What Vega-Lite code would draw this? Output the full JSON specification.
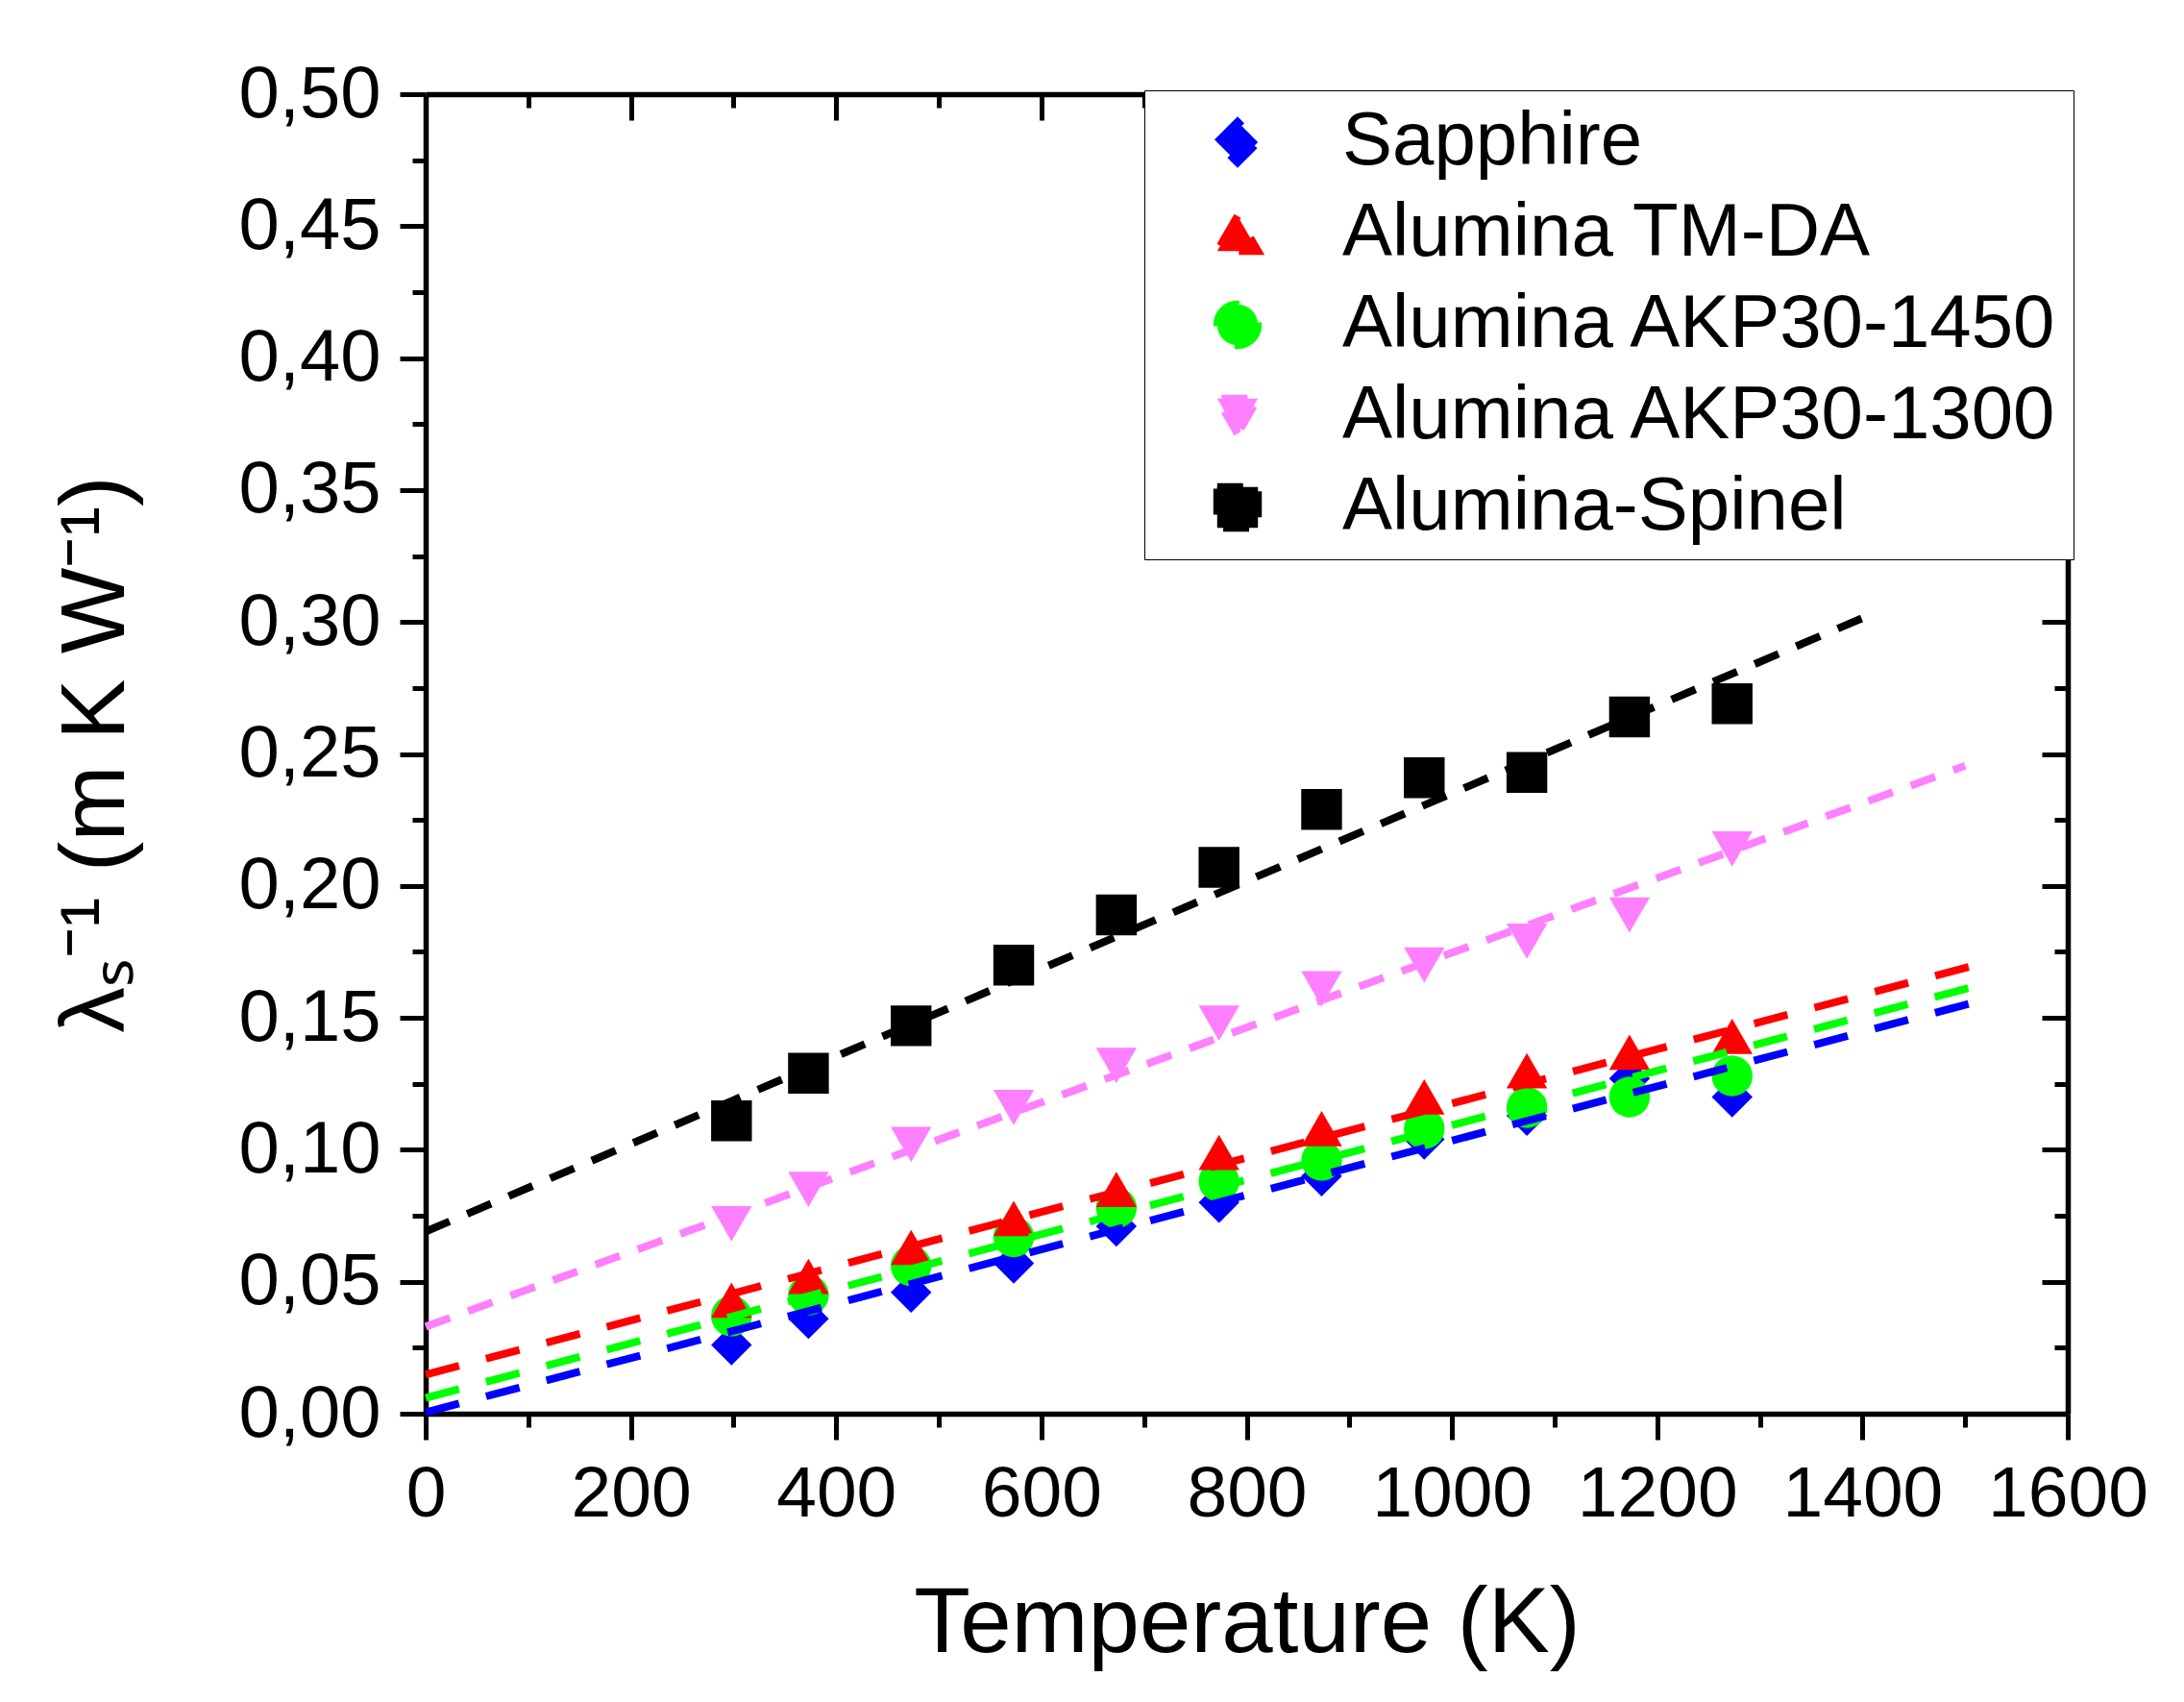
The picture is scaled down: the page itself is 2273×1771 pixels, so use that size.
{
  "$schema": "https://vega.github.io/schema/vega-lite/v6.json",
  "autosize": "none",
  "padding": {"left": 443, "top": 98, "right": 121, "bottom": 300},
  "width": 1709,
  "height": 1373,
  "config": {
    "font": "Liberation Sans",
    "view": {"stroke": null},
    "axis": {"grid": false, "domainColor": "black", "tickColor": "black", "labelColor": "black", "titleColor": "black", "domainWidth": 5.5, "tickWidth": 5}
  },
  "datasets": {
    "points": [
      {"T": 298, "v": 0.111, "series": "Alumina-Spinel"},
      {"T": 373, "v": 0.129, "series": "Alumina-Spinel"},
      {"T": 473, "v": 0.147, "series": "Alumina-Spinel"},
      {"T": 573, "v": 0.170, "series": "Alumina-Spinel"},
      {"T": 673, "v": 0.189, "series": "Alumina-Spinel"},
      {"T": 773, "v": 0.207, "series": "Alumina-Spinel"},
      {"T": 873, "v": 0.229, "series": "Alumina-Spinel"},
      {"T": 973, "v": 0.241, "series": "Alumina-Spinel"},
      {"T": 1073, "v": 0.243, "series": "Alumina-Spinel"},
      {"T": 1173, "v": 0.264, "series": "Alumina-Spinel"},
      {"T": 1273, "v": 0.269, "series": "Alumina-Spinel"},
      {"T": 298, "v": 0.072, "series": "Alumina AKP30-1300"},
      {"T": 373, "v": 0.085, "series": "Alumina AKP30-1300"},
      {"T": 473, "v": 0.102, "series": "Alumina AKP30-1300"},
      {"T": 573, "v": 0.116, "series": "Alumina AKP30-1300"},
      {"T": 673, "v": 0.132, "series": "Alumina AKP30-1300"},
      {"T": 773, "v": 0.148, "series": "Alumina AKP30-1300"},
      {"T": 873, "v": 0.161, "series": "Alumina AKP30-1300"},
      {"T": 973, "v": 0.170, "series": "Alumina AKP30-1300"},
      {"T": 1073, "v": 0.179, "series": "Alumina AKP30-1300"},
      {"T": 1173, "v": 0.189, "series": "Alumina AKP30-1300"},
      {"T": 1273, "v": 0.214, "series": "Alumina AKP30-1300"},
      {"T": 298, "v": 0.026, "series": "Sapphire"},
      {"T": 373, "v": 0.036, "series": "Sapphire"},
      {"T": 473, "v": 0.046, "series": "Sapphire"},
      {"T": 573, "v": 0.057, "series": "Sapphire"},
      {"T": 673, "v": 0.071, "series": "Sapphire"},
      {"T": 773, "v": 0.080, "series": "Sapphire"},
      {"T": 873, "v": 0.090, "series": "Sapphire"},
      {"T": 973, "v": 0.104, "series": "Sapphire"},
      {"T": 1073, "v": 0.113, "series": "Sapphire"},
      {"T": 1173, "v": 0.127, "series": "Sapphire"},
      {"T": 1273, "v": 0.120, "series": "Sapphire"},
      {"T": 298, "v": 0.037, "series": "Alumina AKP30-1450"},
      {"T": 373, "v": 0.045, "series": "Alumina AKP30-1450"},
      {"T": 473, "v": 0.056, "series": "Alumina AKP30-1450"},
      {"T": 573, "v": 0.067, "series": "Alumina AKP30-1450"},
      {"T": 673, "v": 0.078, "series": "Alumina AKP30-1450"},
      {"T": 773, "v": 0.088, "series": "Alumina AKP30-1450"},
      {"T": 873, "v": 0.096, "series": "Alumina AKP30-1450"},
      {"T": 973, "v": 0.108, "series": "Alumina AKP30-1450"},
      {"T": 1073, "v": 0.116, "series": "Alumina AKP30-1450"},
      {"T": 1173, "v": 0.120, "series": "Alumina AKP30-1450"},
      {"T": 1273, "v": 0.128, "series": "Alumina AKP30-1450"},
      {"T": 298, "v": 0.043, "series": "Alumina TM-DA"},
      {"T": 373, "v": 0.052, "series": "Alumina TM-DA"},
      {"T": 473, "v": 0.063, "series": "Alumina TM-DA"},
      {"T": 573, "v": 0.074, "series": "Alumina TM-DA"},
      {"T": 673, "v": 0.085, "series": "Alumina TM-DA"},
      {"T": 773, "v": 0.099, "series": "Alumina TM-DA"},
      {"T": 873, "v": 0.108, "series": "Alumina TM-DA"},
      {"T": 973, "v": 0.120, "series": "Alumina TM-DA"},
      {"T": 1073, "v": 0.130, "series": "Alumina TM-DA"},
      {"T": 1173, "v": 0.137, "series": "Alumina TM-DA"},
      {"T": 1273, "v": 0.143, "series": "Alumina TM-DA"}
    ],
    "fits": [
      {"T": 0, "v": 0.069, "series": "Alumina-Spinel"},
      {"T": 1400, "v": 0.3015, "series": "Alumina-Spinel"},
      {"T": 0, "v": 0.033, "series": "Alumina AKP30-1300"},
      {"T": 1500, "v": 0.2455, "series": "Alumina AKP30-1300"},
      {"T": 0, "v": 0.0148, "series": "Alumina TM-DA"},
      {"T": 1520, "v": 0.171, "series": "Alumina TM-DA"},
      {"T": 0, "v": 0.006, "series": "Alumina AKP30-1450"},
      {"T": 1520, "v": 0.163, "series": "Alumina AKP30-1450"},
      {"T": 0, "v": 0.0005, "series": "Sapphire"},
      {"T": 1520, "v": 0.157, "series": "Sapphire"}
    ]
  },
  "resolve": {"axis": {"x": "independent", "y": "independent"}},
  "layer": [
    {
      "data": {"name": "points"},
      "mark": {"type": "point", "filled": true, "fillOpacity": 1, "strokeOpacity": 0},
      "encoding": {
        "x": {
          "field": "T", "type": "quantitative",
          "scale": {"domain": [0, 1600], "nice": false},
          "axis": {
            "orient": "bottom", "values": [0, 200, 400, 600, 800, 1000, 1200, 1400, 1600],
            "format": "d", "tickSize": 27, "labelPadding": 20, "labelFontSize": 75,
            "labelFlush": false, "title": "Temperature (K)", "titleFontSize": 96,
            "titleFontWeight": "normal", "titlePadding": 50
          }
        },
        "y": {
          "field": "v", "type": "quantitative",
          "scale": {"domain": [0, 0.5], "nice": false},
          "axis": {
            "orient": "left", "values": [0, 0.05, 0.1, 0.15, 0.2, 0.25, 0.3, 0.35, 0.4, 0.45, 0.5],
            "labelExpr": "replace(format(datum.value, '.2f'), '.', ',')",
            "tickSize": 27, "labelPadding": 20, "labelFontSize": 76, "labelFlush": false,
            "title": "λₛ⁻¹ (m K W⁻¹)", "titleFontSize": 95, "titleFontWeight": "normal",
            "titlePadding": 100
          }
        },
        "color": {
          "field": "series", "type": "nominal",
          "scale": {
            "domain": ["Sapphire", "Alumina TM-DA", "Alumina AKP30-1450", "Alumina AKP30-1300", "Alumina-Spinel"],
            "range": ["#0000ff", "#ff0000", "#00ff00", "#ff80ff", "#000000"]
          },
          "legend": {
            "orient": "none", "legendX": 748, "legendY": -4, "title": null,
            "strokeColor": "black", "fillColor": "white",
            "padding": 15, "symbolOffset": 43, "labelOffset": 70, "rowPadding": 17,
            "labelFontSize": 78, "labelColor": "black", "symbolStrokeWidth": 0, "symbolOpacity": 1, "labelLimit": 0
          }
        },
        "shape": {
          "field": "series", "type": "nominal",
          "scale": {
            "domain": ["Sapphire", "Alumina TM-DA", "Alumina AKP30-1450", "Alumina AKP30-1300", "Alumina-Spinel"],
            "range": ["diamond", "triangle-up", "circle", "triangle-down", "square"]
          }
        },
        "size": {
          "field": "series", "type": "nominal",
          "scale": {
            "domain": ["Sapphire", "Alumina TM-DA", "Alumina AKP30-1450", "Alumina AKP30-1300", "Alumina-Spinel"],
            "range": [1800, 1800, 1200, 1800, 1000]
          }
        }
      }
    },
    {
      "data": {"name": "fits"},
      "mark": {"type": "line"},
      "encoding": {
        "x": {
          "field": "T", "type": "quantitative",
          "scale": {"domain": [0, 1600], "nice": false},
          "axis": {"orient": "top", "values": [0, 200, 400, 600, 800, 1000, 1200, 1400, 1600], "tickSize": -27, "labels": false, "title": null}
        },
        "y": {
          "field": "v", "type": "quantitative",
          "scale": {"domain": [0, 0.5], "nice": false},
          "axis": {"orient": "right", "values": [0, 0.05, 0.1, 0.15, 0.2, 0.25, 0.3, 0.35, 0.4, 0.45, 0.5], "tickSize": -27, "labels": false, "title": null}
        },
        "detail": {"field": "series", "type": "nominal"},
        "color": {"field": "series", "type": "nominal", "legend": null},
        "strokeWidth": {
          "field": "series", "type": "nominal", "legend": null,
          "scale": {
            "domain": ["Sapphire", "Alumina TM-DA", "Alumina AKP30-1450", "Alumina AKP30-1300", "Alumina-Spinel"],
            "range": [8, 8, 8, 6, 6]
          }
        },
        "strokeDash": {
          "field": "series", "type": "nominal", "legend": null,
          "scale": {
            "domain": ["Sapphire", "Alumina TM-DA", "Alumina AKP30-1450", "Alumina AKP30-1300", "Alumina-Spinel"],
            "range": [[36, 29], [36, 29], [36, 29], [27, 20], [27, 20]]
          }
        }
      }
    },
    {
      "data": {"name": "fits"},
      "mark": {"type": "point", "opacity": 0},
      "encoding": {
        "x": {
          "field": "T", "type": "quantitative",
          "scale": {"domain": [0, 1600], "nice": false},
          "axis": {"orient": "bottom", "values": [100, 300, 500, 700, 900, 1100, 1300, 1500], "tickSize": 14, "labels": false, "domain": false, "title": null}
        },
        "y": {
          "field": "v", "type": "quantitative",
          "scale": {"domain": [0, 0.5], "nice": false},
          "axis": {"orient": "left", "values": [0.025, 0.075, 0.125, 0.175, 0.225, 0.275, 0.325, 0.375, 0.425, 0.475], "tickSize": 14, "labels": false, "domain": false, "title": null}
        }
      }
    },
    {
      "data": {"name": "fits"},
      "mark": {"type": "point", "opacity": 0},
      "encoding": {
        "x": {
          "field": "T", "type": "quantitative",
          "scale": {"domain": [0, 1600], "nice": false},
          "axis": {"orient": "top", "values": [100, 300, 500, 700, 900, 1100, 1300, 1500], "tickSize": -14, "labels": false, "domain": false, "title": null}
        },
        "y": {
          "field": "v", "type": "quantitative",
          "scale": {"domain": [0, 0.5], "nice": false},
          "axis": {"orient": "right", "values": [0.025, 0.075, 0.125, 0.175, 0.225, 0.275, 0.325, 0.375, 0.425, 0.475], "tickSize": -14, "labels": false, "domain": false, "title": null}
        }
      }
    }
  ]
}
